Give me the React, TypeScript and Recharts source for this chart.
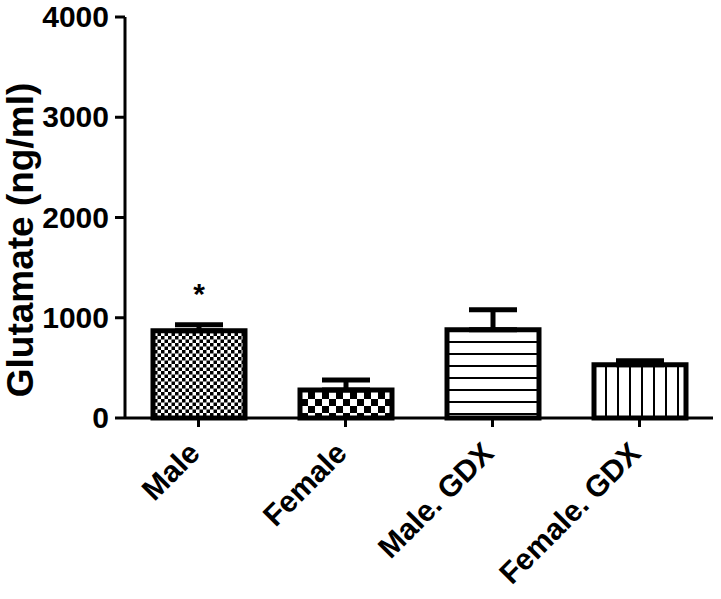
import React from "react";
import { Bar, BarChart, Cell, ErrorBar, LabelList, XAxis, YAxis } from "recharts";

const groups = ["Male", "Female", "Male. GDX", "Female. GDX"];
const means = [870, 280, 880, 530];
const sem = [60, 100, 200, 40];
const marks = ["*", "", "", ""];
const yTicks = [0, 1000, 2000, 3000, 4000];

const data = groups.map((g, i) => ({
  group: g,
  value: means[i],
  err: [0, sem[i]],
  sig: marks[i],
}));

const FONT = "'Liberation Sans', Arial, sans-serif";
const fills = ["url(#fineCheck)", "url(#coarseCheck)", "url(#hLines)", "url(#vLines)"];

const XTick = (props: any) => {
  const { x, y, payload } = props;
  return (
    <g transform={`translate(${x + 3},${y + 26})`}>
      <text
        x={0}
        y={0}
        textAnchor="end"
        transform="rotate(-45)"
        fontFamily={FONT}
        fontWeight="bold"
        fontSize={30}
        fill="#000"
      >
        {payload.value}
      </text>
    </g>
  );
};

// y value labels, right-aligned just left of the tick marks
const YTick = (props: any) => {
  const { x, y, payload } = props;
  return (
    <text
      x={x + 2}
      y={y}
      dy={10}
      textAnchor="end"
      fontFamily={FONT}
      fontWeight="bold"
      fontSize={30}
      fill="#000"
    >
      {payload.value}
    </text>
  );
};

const YLabel = () => (
  <text
    x={0}
    y={0}
    transform="translate(33,240) rotate(-90)"
    textAnchor="middle"
    fontFamily={FONT}
    fontWeight="bold"
    fontSize={37}
    fill="#000"
  >
    Glutamate (ng/ml)
  </text>
);

export default function App() {
  return (
    <div style={{ position: "absolute", left: 0, top: 0, background: "#fff" }}>
      <BarChart
        width={721}
        height={599}
        data={data}
        margin={{ top: 17, right: 8, left: 0, bottom: 0 }}
      >
        <defs>
          <pattern id="fineCheck" patternUnits="userSpaceOnUse" width={7} height={7}>
            <rect width={7} height={7} fill="#fff" />
            <rect width={3.5} height={3.5} fill="#000" />
            <rect x={3.5} y={3.5} width={3.5} height={3.5} fill="#000" />
          </pattern>
          <pattern id="coarseCheck" patternUnits="userSpaceOnUse" width={14} height={14}>
            <rect width={14} height={14} fill="#fff" />
            <rect width={7} height={7} fill="#000" />
            <rect x={7} y={7} width={7} height={7} fill="#000" />
          </pattern>
          <pattern id="hLines" patternUnits="userSpaceOnUse" width={12} height={12}>
            <rect width={12} height={12} fill="#fff" />
            <rect y={5} width={12} height={2} fill="#000" />
          </pattern>
          <pattern id="vLines" patternUnits="userSpaceOnUse" width={12} height={12}>
            <rect width={12} height={12} fill="#fff" />
            <rect x={5} width={2} height={12} fill="#000" />
          </pattern>
        </defs>
        <XAxis
          dataKey="group"
          height={181}
          interval={0}
          tick={<XTick />}
          tickSize={9}
          axisLine={{ stroke: "#000", strokeWidth: 3 }}
          tickLine={{ stroke: "#000", strokeWidth: 3 }}
        />
        <YAxis
          width={125}
          domain={[0, 4000]}
          ticks={yTicks}
          interval={0}
          tickSize={10}
          tickMargin={8}
          axisLine={{ stroke: "#000", strokeWidth: 3 }}
          tickLine={{ stroke: "#000", strokeWidth: 3 }}
          tick={<YTick />}
          label={<YLabel />}
        />
        <Bar
          dataKey="value"
          barSize={92}
          stroke="#000"
          strokeWidth={5}
          isAnimationActive={false}
        >
          {data.map((d, i) => (
            <Cell key={d.group} fill={fills[i]} />
          ))}
          <ErrorBar dataKey="err" width={24} stroke="#000" strokeWidth={5} />
          <LabelList
            dataKey="sig"
            position="top"
            offset={27}
            fontFamily={FONT}
            fontWeight="bold"
            fontSize={30}
            fill="#000"
          />
        </Bar>
      </BarChart>
    </div>
  );
}
